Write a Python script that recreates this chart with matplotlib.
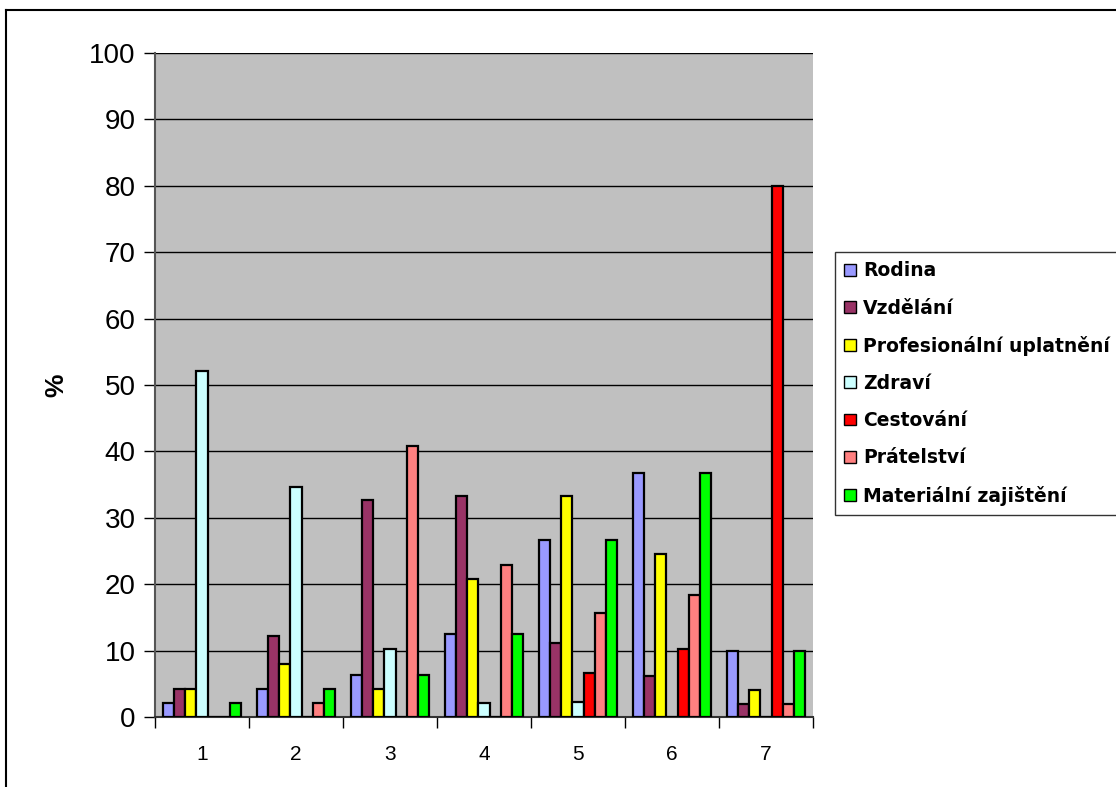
import matplotlib
matplotlib.use("Agg")
import matplotlib.pyplot as plt
import numpy as np
from matplotlib.lines import Line2D

plt.rcParams['font.family'] = ['Liberation Sans', 'DejaVu Sans']

categories = ['1', '2', '3', '4', '5', '6', '7']
series_names = ['Rodina', 'Vzdělání', 'Profesionální uplatnění', 'Zdraví',
                'Cestování', 'Prátelství', 'Materiální zajištění']
rodina      = [2.1, 4.2, 6.3, 12.5, 26.7, 36.7, 10.0]
vzdelani    = [4.2, 12.2, 32.7, 33.3, 11.1, 6.1, 2.0]
profesni    = [4.2, 8.0, 4.2, 20.8, 33.3, 24.5, 4.0]
zdravi      = [52.1, 34.7, 10.2, 2.1, 2.2, 0.0, 0.0]
cestovani   = [0.0, 0.0, 0.0, 0.0, 6.7, 10.2, 80.0]
pratelstvi  = [0.0, 2.1, 40.8, 22.9, 15.6, 18.4, 2.0]
materialni  = [2.1, 4.2, 6.3, 12.5, 26.7, 36.7, 10.0]
series = [rodina, vzdelani, profesni, zdravi, cestovani, pratelstvi, materialni]
colors = ['#9999FF', '#993366', '#FFFF00', '#CCFFFF', '#FF0000', '#FF8080', '#00FF00']
yticks = [0, 10, 20, 30, 40, 50, 60, 70, 80, 90, 100]

W, H = 1116, 787
fig = plt.figure(figsize=(W / 100, H / 100), dpi=100)
ax = fig.add_axes([155 / W, 1 - 717 / H, (813 - 155) / W, (717 - 53) / H])
ax.set_facecolor('#C0C0C0')

x = np.arange(1, len(categories) + 1)
w = 1 / 8.5
for j, (vals, c) in enumerate(zip(series, colors)):
    ax.bar(x + (j - 3) * w, vals, width=w, color=c, edgecolor='black',
           linewidth=1.6, zorder=3)

ax.set_xlim(0.5, 7.5)
ax.set_ylim(0, 100)
ax.set_yticks(yticks)
ax.set_yticklabels([str(v) for v in yticks], fontsize=20)
ax.yaxis.grid(True, color='black', linewidth=1.0, zorder=1)
ax.set_axisbelow(True)

ax.set_xticks(np.arange(0.5, 8.0, 1.0))
ax.set_xticklabels([])
ax.set_xticks(x, minor=True)
ax.set_xticklabels(categories, minor=True, fontsize=15)
ax.tick_params(axis='x', which='major', length=8, width=1, direction='out', color='black')
ax.tick_params(axis='x', which='minor', length=0, pad=20)
ax.tick_params(axis='y', length=8, width=1, direction='out', color='black', pad=6)

for s in ['top', 'right']:
    ax.spines[s].set_visible(False)
ax.spines['left'].set_color('#555555')
ax.spines['left'].set_linewidth(1.5)
ax.spines['bottom'].set_color('#333333')
ax.spines['bottom'].set_linewidth(1.5)

fig.text(56 / W, 1 - 385 / H, '%', rotation=90, fontsize=19, fontweight='bold',
         ha='center', va='center')

# outer border (top and left visible)
fig.add_artist(Line2D([6 / W, 1.0], [1 - 10 / H, 1 - 10 / H], color='black', linewidth=1.5,
                      transform=fig.transFigure))
fig.add_artist(Line2D([6 / W, 6 / W], [0, 1 - 10 / H], color='black', linewidth=1.5,
                      transform=fig.transFigure))

handles = [plt.Rectangle((0, 0), 1, 1, facecolor=c, edgecolor='black', linewidth=1.0)
           for c in colors]
leg = fig.legend(handles, series_names, loc='upper left',
                 bbox_to_anchor=(835 / W, 1 - 252 / H),
                 prop={'size': 13.5, 'weight': 'bold', 'family': 'DejaVu Sans'},
                 handlelength=0.6, handleheight=0.6, handletextpad=0.4,
                 labelspacing=0.97, borderpad=0.5, borderaxespad=0,
                 frameon=True, fancybox=False)
leg.get_frame().set_edgecolor('black')
leg.get_frame().set_linewidth(1.0)

fig.savefig('out.png', dpi=100, facecolor='white')
